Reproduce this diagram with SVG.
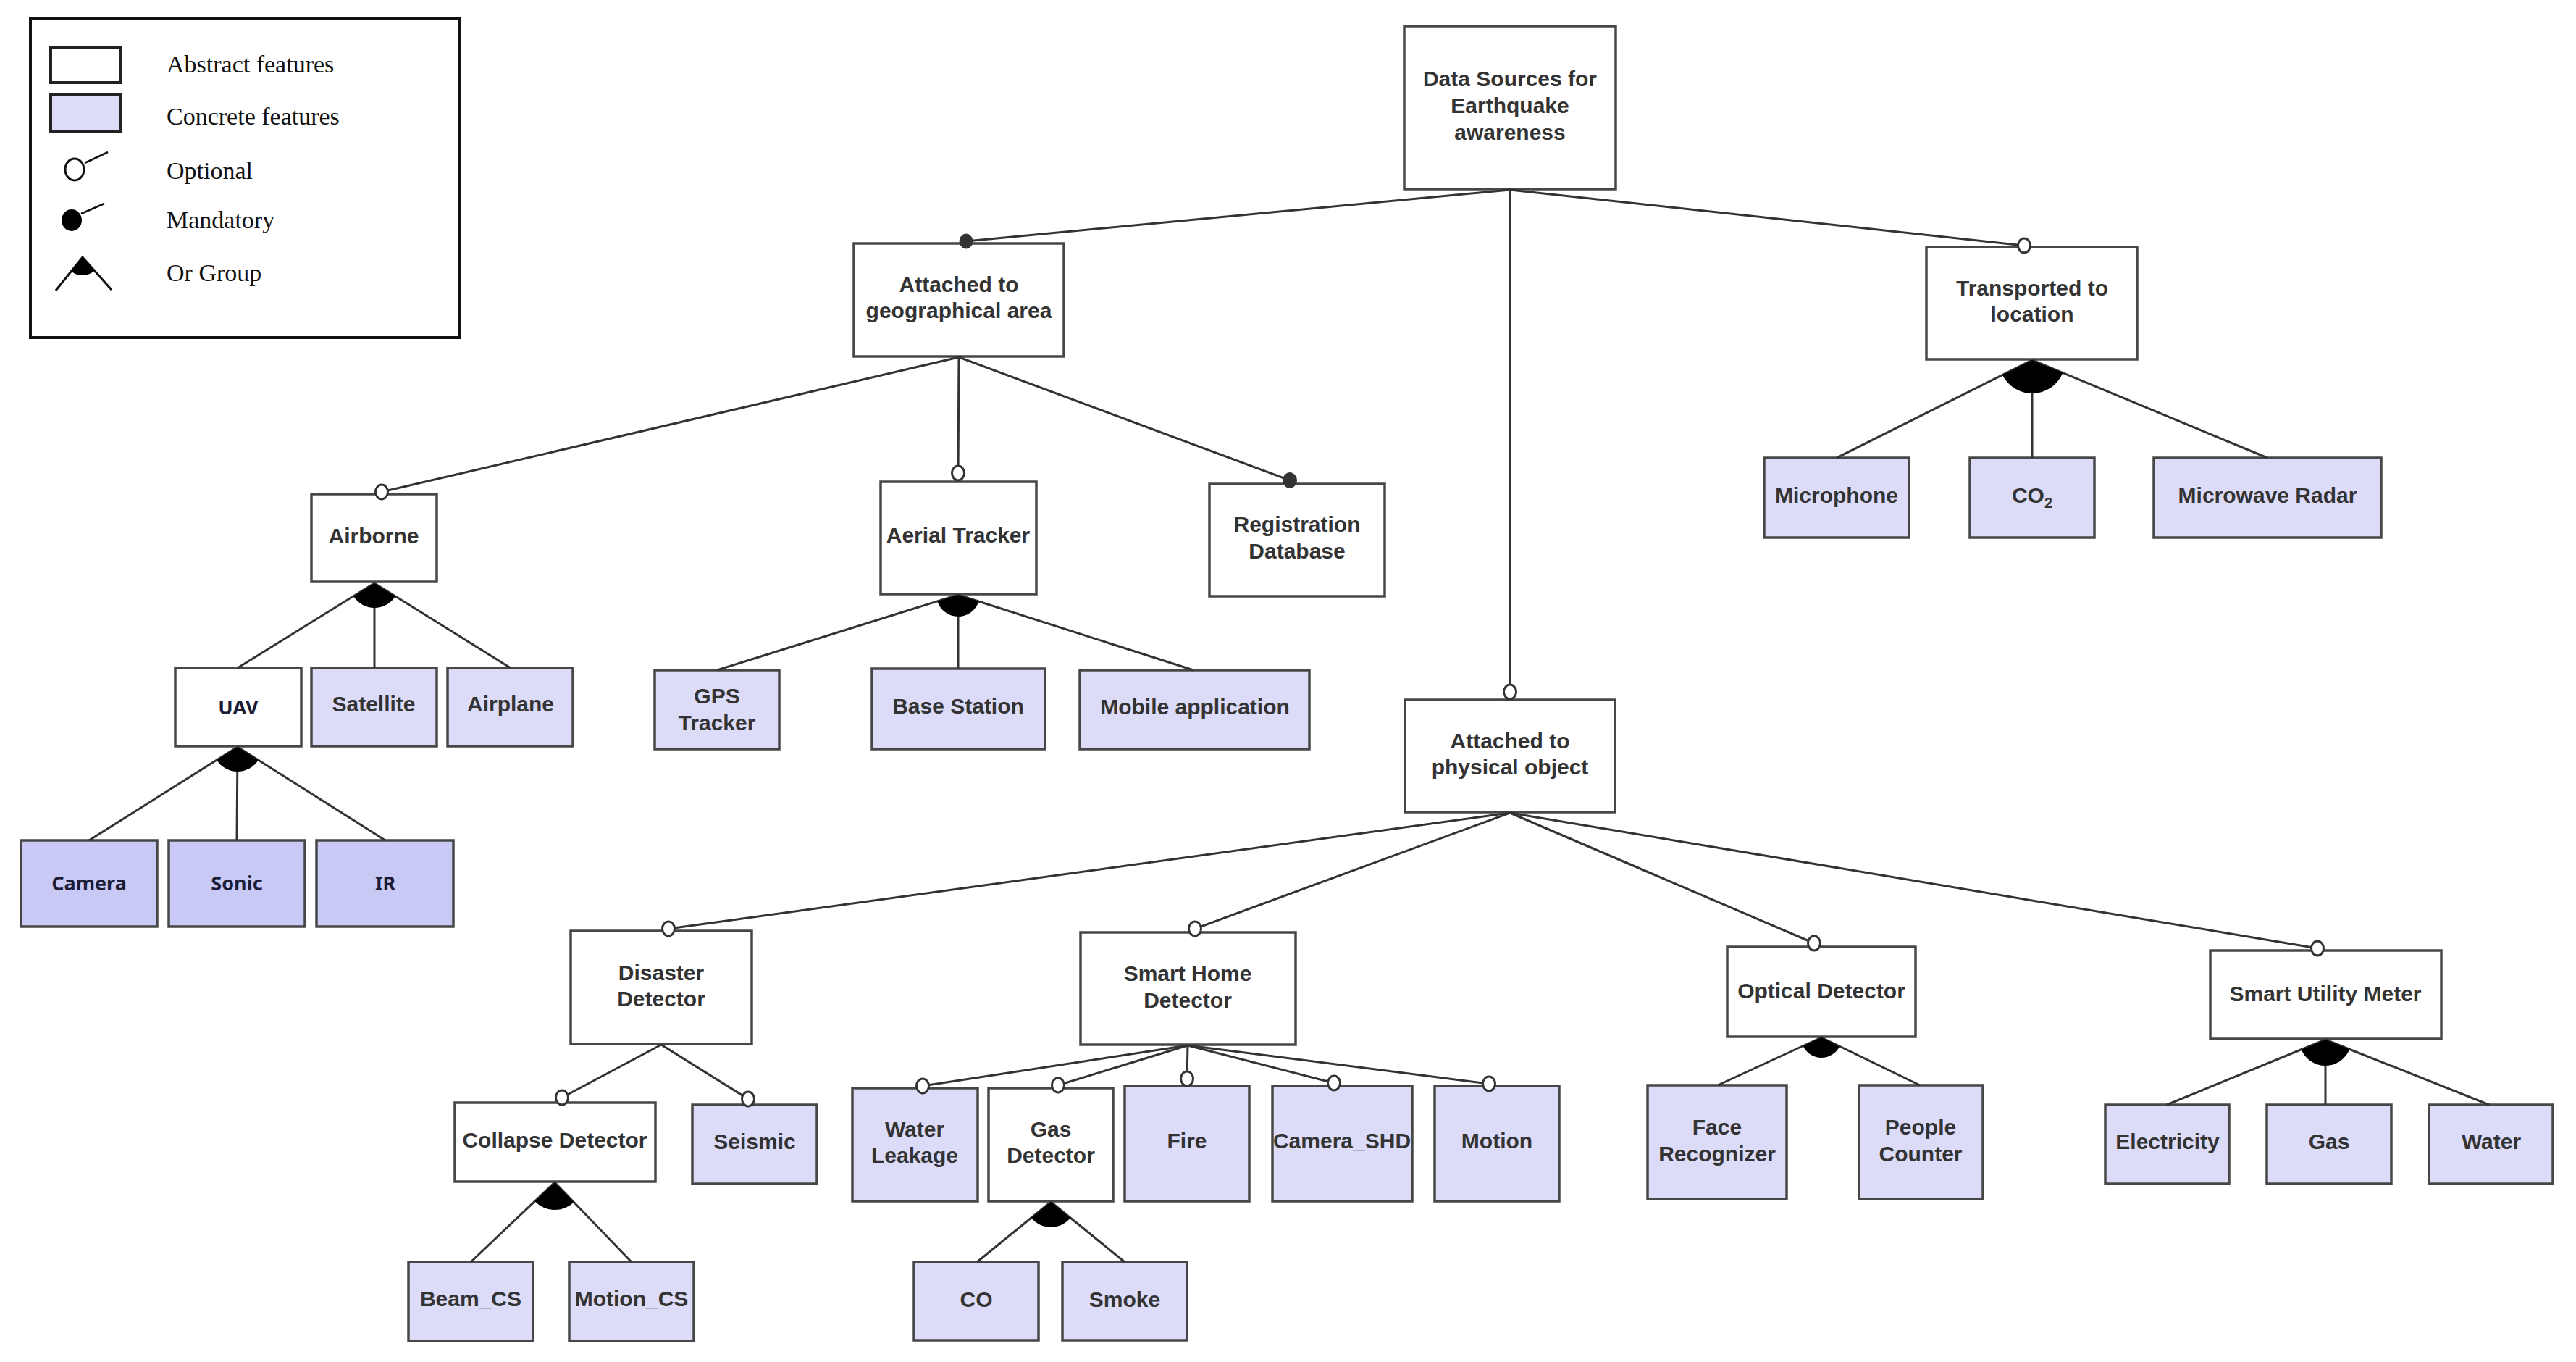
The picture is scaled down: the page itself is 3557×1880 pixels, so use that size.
<svg xmlns="http://www.w3.org/2000/svg" width="3557" height="1880" viewBox="0 0 3557 1880">
<style>
.abs{fill:#ffffff;stroke:#474747;stroke-width:3.5}
.con{fill:#dcdcf8;stroke:#474747;stroke-width:3.5}
.con2{fill:#c9c9f6;stroke:#474747;stroke-width:3.5}
.t{font-family:"Liberation Sans",Arial,sans-serif;font-weight:bold;font-size:30px;fill:#333333;text-anchor:middle}
.t2{font-family:"Noto Sans","DejaVu Sans",sans-serif;font-weight:bold;font-size:27px;fill:#1c1c36;text-anchor:middle}
.lg{font-family:"Liberation Serif","Times New Roman",serif;font-size:34px;fill:#111111}
.ln{stroke:#333333;stroke-width:3;fill:none}
.opt{fill:#ffffff;stroke:#333333;stroke-width:3}
.man{fill:#333333;stroke:#333333;stroke-width:1}
.or{fill:#000000;stroke:none}
</style>
<rect x="0" y="0" width="3557" height="1880" fill="#ffffff"/>

<g id="legend">
<rect x="42" y="25" width="593" height="441" fill="#ffffff" stroke="#111111" stroke-width="4"/>
<rect x="70" y="65" width="97" height="49" fill="#ffffff" stroke="#222222" stroke-width="4"/>
<text class="lg" x="230" y="100">Abstract features</text>
<rect x="70" y="130" width="97" height="51" fill="#dcdcf8" stroke="#222222" stroke-width="4"/>
<text class="lg" x="230" y="172">Concrete features</text>
<line x1="117" y1="225" x2="149" y2="210" stroke="#111111" stroke-width="2.5"/>
<ellipse cx="103" cy="234" rx="13" ry="15" fill="#ffffff" stroke="#111111" stroke-width="3"/>
<text class="lg" x="230" y="247">Optional</text>
<line x1="112" y1="295" x2="144" y2="281" stroke="#111111" stroke-width="2.5"/>
<ellipse cx="99" cy="304" rx="14" ry="15" fill="#000000"/>
<text class="lg" x="230" y="315">Mandatory</text>
<polyline points="77,401 114,355 154,400" fill="none" stroke="#111111" stroke-width="3"/>
<path d="M114,355 L98.3,374.5 A25,25 0 0 0 130.6,373.7 Z" fill="#000000"/>
<text class="lg" x="230" y="388">Or Group</text>
</g>

<g id="n-root"><rect class="abs" x="1939" y="36" width="292" height="225"/>
<text class="t" x="2085" y="119">Data Sources for</text><text class="t" x="2085" y="156">Earthquake</text><text class="t" x="2085" y="193">awareness</text></g>

<g id="n-geo"><rect class="abs" x="1179" y="336" width="290" height="156"/>
<text class="t" x="1324" y="403">Attached to</text><text class="t" x="1324" y="439">geographical area</text></g>

<g id="n-transported"><rect class="abs" x="2660" y="341" width="291" height="155"/>
<text class="t" x="2806" y="408">Transported to</text><text class="t" x="2806" y="444">location</text></g>

<g id="n-airborne"><rect class="abs" x="430" y="682" width="173" height="121"/>
<text class="t" x="516" y="750">Airborne</text></g>

<g id="n-aerial"><rect class="abs" x="1216" y="665" width="215" height="155"/>
<text class="t" x="1323" y="749">Aerial Tracker</text></g>

<g id="n-registration"><rect class="abs" x="1670" y="668" width="242" height="155"/>
<text class="t" x="1791" y="734">Registration</text><text class="t" x="1791" y="771">Database</text></g>

<g id="n-uav"><rect class="abs" x="242" y="922" width="174" height="108"/>
<text class="t2" x="329" y="986">UAV</text></g>
<g id="n-satellite"><rect class="con" x="430" y="922" width="173" height="108"/>
<text class="t" x="516" y="982">Satellite</text></g>
<g id="n-airplane"><rect class="con" x="618" y="922" width="173" height="108"/>
<text class="t" x="705" y="982">Airplane</text></g>

<g id="n-gps"><rect class="con" x="904" y="925" width="172" height="109"/>
<text class="t" x="990" y="971">GPS</text><text class="t" x="990" y="1008">Tracker</text></g>
<g id="n-base"><rect class="con" x="1204" y="923" width="239" height="111"/>
<text class="t" x="1323" y="985">Base Station</text></g>
<g id="n-mobile"><rect class="con" x="1491" y="925" width="317" height="109"/>
<text class="t" x="1650" y="986">Mobile application</text></g>

<g id="n-microphone"><rect class="con" x="2436" y="632" width="200" height="110"/>
<text class="t" x="2536" y="694">Microphone</text></g>
<g id="n-co2"><rect class="con" x="2720" y="632" width="172" height="110"/>
<text class="t" x="2806" y="694">CO<tspan font-size="20" dy="7">2</tspan></text></g>
<g id="n-microwave"><rect class="con" x="2974" y="632" width="314" height="110"/>
<text class="t" x="3131" y="694">Microwave Radar</text></g>

<g id="n-camera"><rect class="con2" x="29" y="1160" width="188" height="119"/>
<text class="t2" x="123" y="1229">Camera</text></g>
<g id="n-sonic"><rect class="con2" x="233" y="1160" width="188" height="119"/>
<text class="t2" x="327" y="1229">Sonic</text></g>
<g id="n-ir"><rect class="con2" x="437" y="1160" width="189" height="119"/>
<text class="t2" x="532" y="1229">IR</text></g>

<g id="n-physical"><rect class="abs" x="1940" y="966" width="290" height="155"/>
<text class="t" x="2085" y="1033">Attached to</text><text class="t" x="2085" y="1069">physical object</text></g>

<g id="n-disaster"><rect class="abs" x="788" y="1285" width="250" height="156"/>
<text class="t" x="913" y="1353">Disaster</text><text class="t" x="913" y="1389">Detector</text></g>
<g id="n-smarthome"><rect class="abs" x="1492" y="1287" width="297" height="155"/>
<text class="t" x="1640" y="1354">Smart Home</text><text class="t" x="1640" y="1391">Detector</text></g>
<g id="n-optical"><rect class="abs" x="2385" y="1307" width="260" height="124"/>
<text class="t" x="2515" y="1378">Optical Detector</text></g>
<g id="n-utility"><rect class="abs" x="3052" y="1312" width="319" height="122"/>
<text class="t" x="3211" y="1382">Smart Utility Meter</text></g>

<g id="n-collapse"><rect class="abs" x="628" y="1522" width="277" height="109"/>
<text class="t" x="766" y="1584">Collapse Detector</text></g>
<g id="n-seismic"><rect class="con" x="956" y="1525" width="172" height="109"/>
<text class="t" x="1042" y="1586">Seismic</text></g>
<g id="n-water-leakage"><rect class="con" x="1177" y="1502" width="173" height="156"/>
<text class="t" x="1263" y="1569">Water</text><text class="t" x="1263" y="1605">Leakage</text></g>
<g id="n-gas-detector"><rect class="abs" x="1365" y="1502" width="172" height="156"/>
<text class="t" x="1451" y="1569">Gas</text><text class="t" x="1451" y="1605">Detector</text></g>
<g id="n-fire"><rect class="con" x="1553" y="1499" width="172" height="159"/>
<text class="t" x="1639" y="1585">Fire</text></g>
<g id="n-camera-shd"><rect class="con" x="1757" y="1499" width="193" height="159"/>
<text class="t" x="1853" y="1585">Camera_SHD</text></g>
<g id="n-motion"><rect class="con" x="1981" y="1499" width="172" height="159"/>
<text class="t" x="2067" y="1585">Motion</text></g>
<g id="n-face"><rect class="con" x="2275" y="1498" width="192" height="157"/>
<text class="t" x="2371" y="1566">Face</text><text class="t" x="2371" y="1603">Recognizer</text></g>
<g id="n-people"><rect class="con" x="2567" y="1498" width="171" height="157"/>
<text class="t" x="2652" y="1566">People</text><text class="t" x="2652" y="1603">Counter</text></g>
<g id="n-electricity"><rect class="con" x="2907" y="1525" width="171" height="109"/>
<text class="t" x="2993" y="1586">Electricity</text></g>
<g id="n-gas"><rect class="con" x="3130" y="1525" width="172" height="109"/>
<text class="t" x="3216" y="1586">Gas</text></g>
<g id="n-water"><rect class="con" x="3354" y="1525" width="171" height="109"/>
<text class="t" x="3440" y="1586">Water</text></g>
<g id="n-beam"><rect class="con" x="564" y="1742" width="172" height="109"/>
<text class="t" x="650" y="1803">Beam_CS</text></g>
<g id="n-motion-cs"><rect class="con" x="786" y="1742" width="172" height="109"/>
<text class="t" x="872" y="1803">Motion_CS</text></g>
<g id="n-co"><rect class="con" x="1262" y="1742" width="172" height="108"/>
<text class="t" x="1348" y="1804">CO</text></g>
<g id="n-smoke"><rect class="con" x="1467" y="1742" width="172" height="108"/>
<text class="t" x="1553" y="1804">Smoke</text></g>

<g id="connectors">
<g class="ln">
<line x1="2085" y1="262" x2="1334" y2="333"/>
<line x1="2085" y1="262" x2="2085" y2="955"/>
<line x1="2085" y1="262" x2="2795" y2="339"/>
<line x1="1324" y1="493" x2="527" y2="679"/>
<line x1="1324" y1="493" x2="1323" y2="653"/>
<line x1="1324" y1="493" x2="1781" y2="663"/>
<line x1="517" y1="805" x2="328" y2="922"/>
<line x1="517" y1="805" x2="517" y2="922"/>
<line x1="517" y1="805" x2="705" y2="922"/>
<line x1="328" y1="1031" x2="123" y2="1160"/>
<line x1="328" y1="1031" x2="327" y2="1160"/>
<line x1="328" y1="1031" x2="532" y2="1160"/>
<line x1="1323" y1="821" x2="990" y2="925"/>
<line x1="1323" y1="821" x2="1323" y2="923"/>
<line x1="1323" y1="821" x2="1648" y2="925"/>
<line x1="2806" y1="497" x2="2536" y2="632"/>
<line x1="2806" y1="497" x2="2806" y2="632"/>
<line x1="2806" y1="497" x2="3131" y2="632"/>
<line x1="2085" y1="1122" x2="923" y2="1282"/>
<line x1="2085" y1="1122" x2="1650" y2="1282"/>
<line x1="2085" y1="1122" x2="2505" y2="1302"/>
<line x1="2085" y1="1122" x2="3200" y2="1309"/>
<line x1="913" y1="1442" x2="776" y2="1515"/>
<line x1="913" y1="1442" x2="1033" y2="1517"/>
<line x1="766" y1="1632" x2="650" y2="1742"/>
<line x1="766" y1="1632" x2="872" y2="1742"/>
<line x1="1640" y1="1443" x2="1274" y2="1499"/>
<line x1="1640" y1="1443" x2="1461" y2="1498"/>
<line x1="1640" y1="1443" x2="1639" y2="1489"/>
<line x1="1640" y1="1443" x2="1842" y2="1495"/>
<line x1="1640" y1="1443" x2="2056" y2="1496"/>
<line x1="1451" y1="1659" x2="1349" y2="1742"/>
<line x1="1451" y1="1659" x2="1553" y2="1742"/>
<line x1="2515" y1="1432" x2="2372" y2="1498"/>
<line x1="2515" y1="1432" x2="2651" y2="1498"/>
<line x1="3211" y1="1435" x2="2992" y2="1525"/>
<line x1="3211" y1="1435" x2="3211" y2="1525"/>
<line x1="3211" y1="1435" x2="3437" y2="1525"/>
</g>
<ellipse class="man" cx="1334" cy="333" rx="9" ry="10"/>
<ellipse class="man" cx="1781" cy="663" rx="9.5" ry="10.5"/>
<ellipse class="opt" cx="2795" cy="339" rx="8.5" ry="10"/>
<ellipse class="opt" cx="2085" cy="955" rx="8.5" ry="10"/>
<ellipse class="opt" cx="527" cy="679" rx="8.5" ry="10"/>
<ellipse class="opt" cx="1323" cy="653" rx="8.5" ry="10"/>
<ellipse class="opt" cx="923" cy="1282" rx="8.5" ry="10"/>
<ellipse class="opt" cx="1650" cy="1282" rx="8.5" ry="10"/>
<ellipse class="opt" cx="2505" cy="1302" rx="8.5" ry="10"/>
<ellipse class="opt" cx="3200" cy="1309" rx="8.5" ry="10"/>
<ellipse class="opt" cx="776" cy="1515" rx="8.5" ry="10"/>
<ellipse class="opt" cx="1033" cy="1517" rx="8.5" ry="10"/>
<ellipse class="opt" cx="1274" cy="1499" rx="8.5" ry="10"/>
<ellipse class="opt" cx="1461" cy="1498" rx="8.5" ry="10"/>
<ellipse class="opt" cx="1639" cy="1489" rx="8.5" ry="10"/>
<ellipse class="opt" cx="1842" cy="1495" rx="8.5" ry="10"/>
<ellipse class="opt" cx="2056" cy="1496" rx="8.5" ry="10"/>
<path class="or" d="M517,805 L488.1,822.9 A34,34 0 0 0 545.9,823 Z"/>
<path class="or" d="M328,1031 L299.2,1049.1 A34,34 0 0 0 356.7,1049.2 Z"/>
<path class="or" d="M1323,821 L1294.4,829.9 A30,30 0 0 0 1351.6,830.1 Z"/>
<path class="or" d="M2806,497 L2764.9,517.6 A46,46 0 0 0 2848.5,514.6 Z"/>
<path class="or" d="M766,1632 L738.4,1658.1 A38,38 0 0 0 792.4,1659.4 Z"/>
<path class="or" d="M1451,1659 L1423.9,1681.1 A35,35 0 0 0 1478.1,1681.1 Z"/>
<path class="or" d="M2515,1432 L2489.6,1443.7 A28,28 0 0 0 2540.2,1444.2 Z"/>
<path class="or" d="M3211,1435 L3177.7,1448.7 A36,36 0 0 0 3244.4,1448.3 Z"/>
</g>
</svg>
